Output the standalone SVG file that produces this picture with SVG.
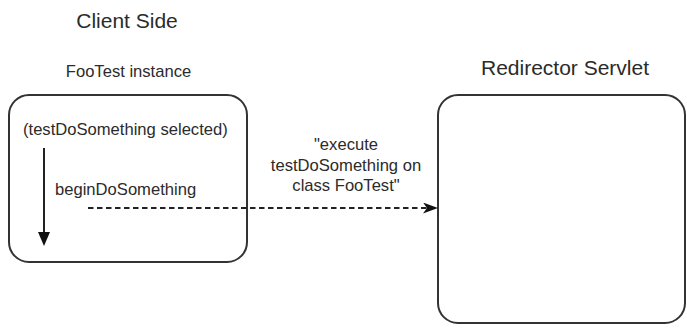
<svg xmlns="http://www.w3.org/2000/svg" width="687" height="331" viewBox="0 0 687 331">
<style>
text { font-family: "Liberation Sans", Arial, sans-serif; fill: #2b2b2b; }
.title { font-size: 21px; text-anchor: middle; }
.lbl { font-size: 16.6px; }
.mid { text-anchor: middle; }
.box { fill: #ffffff; stroke: #333333; stroke-width: 2; }
.conn { stroke: #222222; stroke-width: 2; fill: none; }
</style>
<defs>
<marker id="solidHead" markerUnits="userSpaceOnUse" markerWidth="14" markerHeight="12" viewBox="0 0 14 12" refX="8" refY="6" orient="auto">
<path d="M0,0 L14,6 L0,12 Z" fill="#111111"/>
</marker>
<marker id="barbHead" markerUnits="userSpaceOnUse" markerWidth="15" markerHeight="11" viewBox="0 0 15 11" refX="5" refY="5.5" orient="auto">
<path d="M0,0 L15,5.5 L0,11 L4,5.5 Z" fill="#111111"/>
</marker>
</defs>
<rect width="687" height="331" fill="#ffffff"/>
<text class="title" x="127" y="28">Client Side</text>
<g id="client">
<text class="lbl mid" x="128.5" y="77">FooTest instance</text>
<rect class="box" x="9" y="95" width="238" height="167" rx="20" ry="20"/>
<text class="lbl" x="23" y="135">(testDoSomething selected)</text>
<text class="lbl" x="55" y="195">beginDoSomething</text>
</g>
<g id="servlet">
<text class="title" x="565" y="75">Redirector Servlet</text>
<rect class="box" x="438" y="95" width="247" height="228" rx="20" ry="20"/>
</g>
<g id="connectors">
<line class="conn" x1="44" y1="148" x2="44" y2="240" marker-end="url(#solidHead)"/>
<line class="conn" x1="88" y1="208" x2="428" y2="208" stroke-dasharray="5.5,3.5" marker-end="url(#barbHead)"/>
<text class="lbl mid" x="346" y="150">"execute</text>
<text class="lbl mid" x="346" y="171">testDoSomething on</text>
<text class="lbl mid" x="346" y="191">class FooTest"</text>
</g>
</svg>
